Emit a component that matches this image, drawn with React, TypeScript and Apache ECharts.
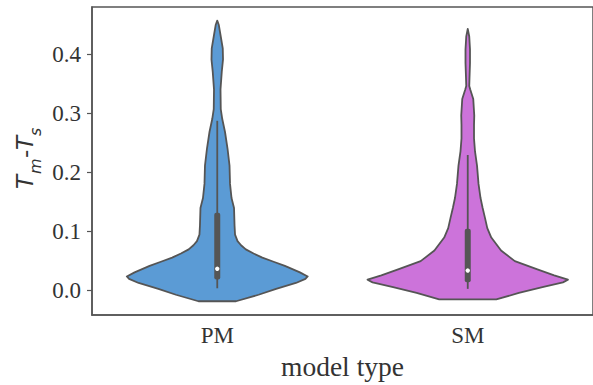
import React, { useEffect, useRef } from "react";
import * as echarts from "echarts";

// ---- data ----
const categories = ["PM", "SM"];
const yTicks = [0, 0.1, 0.2, 0.3, 0.4];

// violin outline: y levels and half-widths (fraction of the category band)
const pmLevels = [-0.019, -0.008, 0.002, 0.012, 0.019, 0.023, 0.03, 0.041, 0.048, 0.055, 0.062, 0.069, 0.076, 0.083, 0.094, 0.11, 0.139, 0.156, 0.18, 0.211, 0.24, 0.268, 0.29, 0.307, 0.34, 0.37, 0.391, 0.41, 0.43, 0.45, 0.457];
const pmHalfWidths = [0.075, 0.165, 0.235, 0.314, 0.352, 0.361, 0.33, 0.27, 0.225, 0.18, 0.145, 0.114, 0.095, 0.081, 0.071, 0.069, 0.067, 0.057, 0.051, 0.049, 0.041, 0.031, 0.02, 0.014, 0.013, 0.018, 0.023, 0.022, 0.014, 0.006, 0];

const smLevels = [-0.016, -0.005, 0.005, 0.013, 0.0175, 0.025, 0.035, 0.049, 0.067, 0.089, 0.105, 0.122, 0.14, 0.156, 0.18, 0.211, 0.235, 0.257, 0.28, 0.296, 0.324, 0.34, 0.346, 0.36, 0.385, 0.408, 0.43, 0.443];
const smHalfWidths = [0.114, 0.204, 0.298, 0.38, 0.4, 0.345, 0.278, 0.188, 0.133, 0.094, 0.078, 0.069, 0.059, 0.051, 0.043, 0.037, 0.029, 0.025, 0.025, 0.026, 0.022, 0.01, 0.006, 0.007, 0.009, 0.009, 0.006, 0];

// box statistics: [whiskerLow, q1, median, q3, whiskerHigh]
const pmBox = [0.003, 0.018, 0.036, 0.131, 0.287];
const smBox = [0.002, 0.013, 0.033, 0.104, 0.229];

const colors = ["#5b9bd5", "#cc73da"];

const profiles = [
  { levels: pmLevels, hw: pmHalfWidths, box: pmBox },
  { levels: smLevels, hw: smHalfWidths, box: smBox },
];

export default function App() {
  const ref = useRef<HTMLDivElement>(null);
  useEffect(() => {
    document.body.style.margin = "0";
    const chart = echarts.init(ref.current!, null, { renderer: "svg" });
    const serif = "'Liberation Serif', 'Times New Roman', serif";
    const lineColor = "#555";
    const option: any = {
      animation: false,
      grid: {
        left: 92,
        top: 7,
        width: 509.5,
        height: 311,
        show: true,
        borderColor: lineColor,
        borderWidth: 1.5,
        backgroundColor: "transparent",
      },
      xAxis: {
        type: "category",
        data: categories,
        boundaryGap: true,
        axisLine: { onZero: false, lineStyle: { color: lineColor, width: 1.5 } },
        axisTick: { alignWithLabel: true, length: 5, lineStyle: { color: lineColor, width: 1.2 } },
        axisLabel: { fontFamily: serif, fontSize: 23, color: "#333", margin: 9 },
        name: "model type",
        nameLocation: "middle",
        nameGap: 33,
        nameTextStyle: { fontFamily: serif, fontSize: 27.5, color: "#333" },
        splitLine: { show: false },
      },
      yAxis: {
        type: "value",
        min: -0.0425,
        max: 0.48,
        axisLine: { show: true, lineStyle: { color: lineColor, width: 1.5 } },
        axisTick: { show: true, length: 5, customValues: yTicks, lineStyle: { color: lineColor, width: 1.2 } },
        axisLabel: {
          customValues: yTicks,
          fontFamily: serif,
          fontSize: 23,
          color: "#333",
          margin: 11,
          formatter: (v: number) => v.toFixed(1),
        },
        splitLine: { show: false },
      },
      graphic: [
        {
          type: "group",
          x: 36,
          y: 189,
          rotation: Math.PI / 2,
          children: [
            { type: "text", x: 0, y: 0, style: { text: "T", font: "italic 23px 'DejaVu Sans'", fill: "#333", verticalAlign: "bottom" } },
            { type: "text", x: 15, y: 7, style: { text: "m", font: "italic 16px 'DejaVu Sans'", fill: "#333", verticalAlign: "bottom" } },
            { type: "text", x: 31, y: 0, style: { text: "-", font: "23px 'DejaVu Sans'", fill: "#333", verticalAlign: "bottom" } },
            { type: "text", x: 39, y: 0, style: { text: "T", font: "italic 23px 'DejaVu Sans'", fill: "#333", verticalAlign: "bottom" } },
            { type: "text", x: 53, y: 7, style: { text: "s", font: "italic 16px 'DejaVu Sans'", fill: "#333", verticalAlign: "bottom" } },
          ],
        },
      ],
      series: [
        {
          type: "custom",
          data: [[0], [1]],
          encode: { x: 0 },
          renderItem: (params: any, api: any) => {
            const idx = api.value(0);
            const prof = profiles[idx];
            const band = api.size([1, 0])[0];
            const right: number[][] = [];
            const left: number[][] = [];
            for (let i = 0; i < prof.levels.length; i++) {
              const p = api.coord([idx, prof.levels[i]]);
              const w = prof.hw[i] * band;
              right.push([p[0] + w, p[1]]);
              left.push([p[0] - w, p[1]]);
            }
            const pts = right.concat(left.reverse());
            const [wl, q1, med, q3, wh] = prof.box;
            const pWl = api.coord([idx, wl]);
            const pWh = api.coord([idx, wh]);
            const pQ1 = api.coord([idx, q1]);
            const pQ3 = api.coord([idx, q3]);
            const pMed = api.coord([idx, med]);
            return {
              type: "group",
              children: [
                {
                  type: "polygon",
                  shape: { points: pts },
                  style: { fill: colors[idx], stroke: lineColor, lineWidth: 1.8, lineJoin: "round" },
                },
                {
                  type: "line",
                  shape: { x1: pWl[0], y1: pWl[1], x2: pWh[0], y2: pWh[1] },
                  style: { stroke: lineColor, lineWidth: 1.8 },
                },
                {
                  type: "rect",
                  shape: { x: pQ3[0] - 3, y: pQ3[1], width: 6, height: pQ1[1] - pQ3[1], r: 2 },
                  style: { fill: lineColor },
                },
                {
                  type: "circle",
                  shape: { cx: pMed[0], cy: pMed[1], r: 2.2 },
                  style: { fill: "#fff" },
                },
              ],
            };
          },
        },
      ],
    };
    chart.setOption(option);
    return () => chart.dispose();
  }, []);
  return <div ref={ref} style={{ width: 593, height: 385 }} />;
}
